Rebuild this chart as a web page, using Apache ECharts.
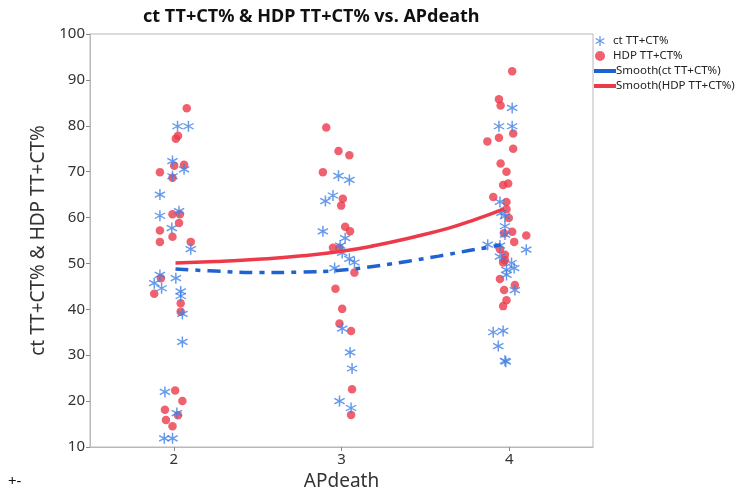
<!DOCTYPE html>
<html><head><meta charset="utf-8">
<script src="https://cdn.jsdelivr.net/npm/echarts@6/dist/echarts.min.js"></script>
<style>html,body{margin:0;padding:0;background:#fff}#c{width:740px;height:497px}</style>
</head><body><div id="c"></div>
<script>
// ---- data (jittered x position, value) ----
var ctX2 = [2.022,2.087,1.992,2.061,1.992,1.917,1.917,2.031,1.988,2.101,1.917,2.012,1.883,1.927,2.041,2.041,2.051,2.051,1.947,2.018,1.943,1.992];
var ctY2 = [79.9,79.9,72.3,70.5,69.0,65.0,60.4,61.4,57.7,53.1,47.5,46.8,45.7,44.6,43.9,42.9,39.0,32.9,22.0,17.4,11.9,11.9];
var ctX3 = [2.982,3.047,2.949,2.904,2.889,3.022,2.992,3.004,3.047,3.077,2.959,3.004,3.051,3.063,2.988,3.057];
var ctY3 = [69.1,68.2,64.8,63.6,57.0,55.5,53.9,52.3,51.0,50.2,49.0,35.8,30.6,27.1,20.0,18.5];
var ctX4 = [4.018,3.939,4.018,3.945,3.954,3.975,3.975,3.975,3.872,3.945,4.102,3.945,4.014,4.030,3.984,3.984,4.034,3.905,3.964,3.935,3.975,3.980];
var ctY4 = [83.9,79.9,79.9,63.4,61.0,60.3,58.1,56.3,54.1,53.9,53.0,51.5,50.1,49.0,48.6,47.5,44.2,35.0,35.3,32.0,28.8,28.6];

var hdpX2 = [2.077,2.012,2.025,2.002,2.061,1.917,1.992,1.992,2.036,2.031,1.917,1.992,1.917,2.101,1.923,1.883,2.041,2.041,2.008,2.051,1.947,2.025,1.953,1.992];
var hdpY2 = [83.8,77.2,77.8,71.3,71.5,69.9,68.7,60.7,60.7,58.8,57.2,55.8,54.7,54.7,46.8,43.4,41.3,39.5,22.3,20.0,18.1,16.9,15.9,14.5];
var hdpX3 = [2.909,2.982,3.047,2.889,3.008,2.998,3.022,3.051,2.949,2.988,3.077,2.964,3.004,2.988,3.057,3.063,3.057];
var hdpY3 = [79.6,74.5,73.6,69.9,64.1,62.6,58.0,57.0,53.4,53.4,48.0,44.5,40.1,36.9,35.3,22.6,17.0];
var hdpX4 = [4.018,3.939,3.949,4.024,3.939,3.870,4.024,3.949,3.984,3.964,3.994,3.905,3.984,3.984,3.998,4.018,3.969,4.102,4.030,3.945,3.975,3.975,3.964,3.945,4.034,3.970,3.984,3.964];
var hdpY4 = [91.9,85.8,84.4,78.3,77.4,76.6,75.0,71.8,70.0,67.1,67.4,64.5,63.4,61.8,59.9,56.9,56.6,56.1,54.7,53.1,51.9,50.7,50.2,46.6,45.3,44.2,42.0,40.7];

var smoothCtX = [2.01,2.21,2.51,2.75,2.99,3.22,3.40,3.58,3.76,3.89,3.95];
var smoothCtY = [48.8,48.4,48.0,48.1,48.5,49.5,50.5,51.6,52.8,53.6,54.1];
var smoothHdpX = [2.01,2.25,2.50,2.75,2.99,3.20,3.40,3.64,3.80,3.97];
var smoothHdpY = [50.1,50.4,50.9,51.6,52.6,53.9,55.5,57.7,59.6,61.9];

var xTicks = [2,3,4];
var names = ['ct TT+CT%','HDP TT+CT%','Smooth(ct TT+CT%)','Smooth(HDP TT+CT%)'];

function zip(xs, ys){ return xs.map(function(x,i){ return [x, ys[i]]; }); }
var ctData = zip(ctX2,ctY2).concat(zip(ctX3,ctY3), zip(ctX4,ctY4));
var hdpData = zip(hdpX2,hdpY2).concat(zip(hdpX3,hdpY3), zip(hdpX4,hdpY4));

// asterisk symbol path (style only)
function asterisk(){
  var L=10, w=1.25, cx=10, cy=10, p='';
  [90, 30, -30].forEach(function(a){
    var t=a*Math.PI/180, dx=Math.cos(t), dy=Math.sin(t), nx=-dy, ny=dx;
    var pts=[[cx+L*dx+w*nx, cy+L*dy+w*ny],[cx+L*dx-w*nx, cy+L*dy-w*ny],[cx-L*dx-w*nx, cy-L*dy-w*ny],[cx-L*dx+w*nx, cy-L*dy+w*ny]];
    p += 'M'+pts.map(function(q){return q[0].toFixed(2)+' '+q[1].toFixed(2);}).join(' L')+' Z ';
  });
  return 'path://'+p;
}
var STAR = asterisk();
var BLUE_PT = '#3f7fe6', BLUE_LN = '#1f63d3', RED = '#ec3a4b';
var FONT = '"Noto Sans", "Open Sans", sans-serif';

var chart = echarts.init(document.getElementById('c'), null, {renderer:'canvas'});
chart.setOption({
  animation:false,
  backgroundColor:'#fff',
  textStyle:{fontFamily:FONT},
  title:{
    text:'ct TT+CT% & HDP TT+CT% vs. APdeath',
    left:138, top:3,
    textStyle:{fontFamily:FONT, fontSize:18, fontWeight:'bold', color:'#111'}
  },
  legend:[{
    orient:'vertical', left:590, top:30, itemGap:3, itemWidth:16, itemHeight:10,
    textStyle:{fontFamily:FONT, fontSize:11.5, color:'#222'},
    data:[{name:names[0], icon:STAR},{name:names[1], icon:'circle'}]
  },{
    orient:'vertical', left:589, top:60, itemGap:3, itemWidth:22, itemHeight:4,
    textStyle:{fontFamily:FONT, fontSize:11.5, color:'#222', padding:[0,0,0,-5]},
    data:[{name:names[2], icon:'rect', itemStyle:{color:BLUE_LN}},{name:names[3], icon:'rect', itemStyle:{color:RED}}]
  }],
  grid:{left:90, right:147, top:34, bottom:50, show:true, borderColor:'#b8b8b8', borderWidth:1},
  xAxis:{
    type:'value', min:1.5, max:4.5,
    name:'APdeath', nameLocation:'middle', nameGap:23,
    nameTextStyle:{fontFamily:FONT, fontSize:19, color:'#333'},
    axisLine:{show:true, onZero:false, lineStyle:{color:'#b8b8b8'}},
    axisTick:{show:true, customValues:xTicks, length:4, lineStyle:{color:'#888'}},
    axisLabel:{customValues:xTicks, fontFamily:FONT, fontSize:15, color:'#333', margin:5},
    splitLine:{show:false}
  },
  yAxis:{
    type:'value', min:10, max:100, interval:10,
    name:'ct TT+CT% & HDP TT+CT%', nameLocation:'middle', nameGap:38,
    nameTextStyle:{fontFamily:FONT, fontSize:19, color:'#333'},
    axisLine:{show:true, lineStyle:{color:'#b8b8b8'}},
    axisTick:{show:true, length:4, lineStyle:{color:'#888'}},
    axisLabel:{fontFamily:FONT, fontSize:15, color:'#333', margin:5},
    splitLine:{show:false}
  },
  graphic:[{type:'text', left:8, top:474, style:{text:'+-', font:'15px '+FONT, fill:'#111'}}],
  series:[
    {name:names[0], type:'scatter', symbol:STAR, symbolSize:11, data:ctData, z:3,
     itemStyle:{color:BLUE_PT}},
    {name:names[1], type:'scatter', symbol:'circle', symbolSize:8.5, data:hdpData, z:2,
     itemStyle:{color:RED}},
    {name:names[2], type:'line', data:zip(smoothCtX, smoothCtY), smooth:true, showSymbol:false, symbol:'none', z:4,
     lineStyle:{color:BLUE_LN, width:3.5, type:[13,7,5,7]}, itemStyle:{color:BLUE_LN}},
    {name:names[3], type:'line', data:zip(smoothHdpX, smoothHdpY), smooth:true, showSymbol:false, symbol:'none', z:4,
     lineStyle:{color:RED, width:3.5}, itemStyle:{color:RED}}
  ]
});
</script></body></html>
